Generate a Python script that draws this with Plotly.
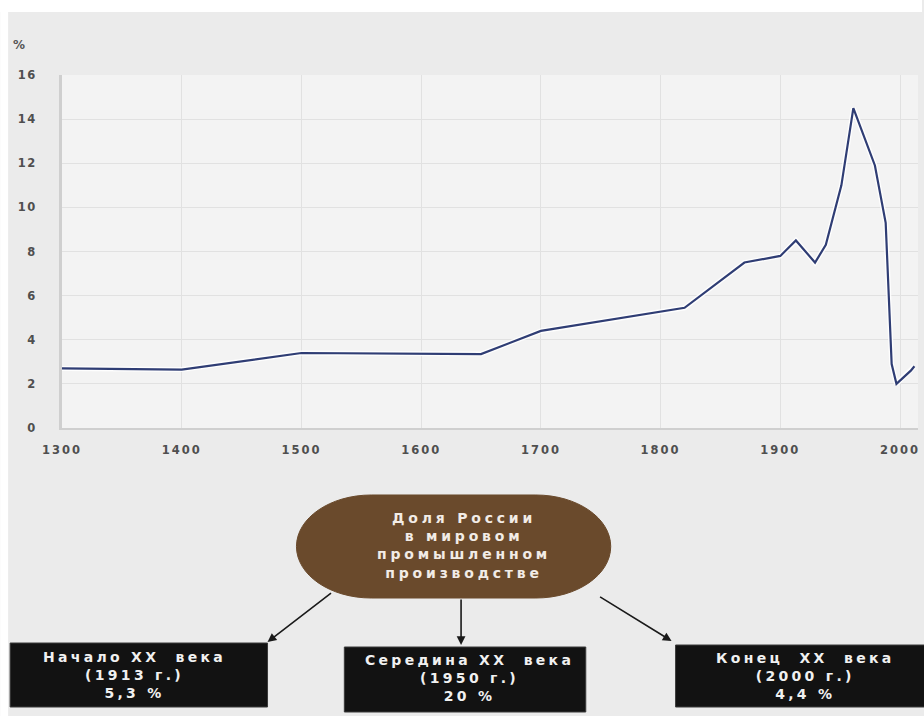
import plotly.graph_objects as go

# Russia's share of world industrial output, %
years = [1300, 1400, 1500, 1650, 1700, 1820, 1870, 1900, 1913, 1929, 1938, 1945, 1951,
         1961, 1979, 1988, 1993, 1997, 2003, 2009, 2012]
share = [2.7, 2.65, 3.4, 3.35, 4.4, 5.45, 7.5, 7.8, 8.5, 7.5, 8.3, 9.7, 11.0,
         14.5, 11.9, 9.3, 2.9, 2.0, 2.3, 2.6, 2.8]

x_ticks = [1300, 1400, 1500, 1600, 1700, 1800, 1900, 2000]
y_ticks = [0, 2, 4, 6, 8, 10, 12, 14, 16]

center_lines = ["Доля России", "в мировом", "промышленном", "производстве"]
box_lines = [
    ["Начало XX  века", "(1913 г.)", "5,3 %"],
    ["Середина XX  века", "(1950 г.)", "20 %"],
    ["Конец  XX  века", "(2000 г.)", "4,4 %"],
]

# page geometry (pixels) of the plotting area
W_PAGE, H_PAGE = 924, 716
L, T, R, B = 62, 75, 920, 428
PW, PH = R - L, B - T

FONT = "DejaVu Sans, Liberation Sans, Arial, sans-serif"


def px(x):
    return (x - L) / PW


def py(y):
    return (B - y) / PH


def spaced(text, gap):
    """Wrap text in a span with extra tracking between letters."""
    return f'<span style="letter-spacing:{gap}px">{text}</span>'


def text_block(lines, cx, cy, size, gap, color):
    """Centred multi-line label as a single annotation."""
    return dict(
        x=px(cx), y=py(cy), xref="paper", yref="paper",
        showarrow=False, xanchor="center", yanchor="middle", align="center",
        text="<br>".join(spaced(s, gap) for s in lines),
        font=dict(family=FONT, size=size, color=color, weight="bold"),
    )


fig = go.Figure()
# soft light halo under the series line
fig.add_trace(go.Scatter(
    x=years, y=share, mode="lines",
    line=dict(color="rgba(255,255,255,0.9)", width=5),
    hoverinfo="skip", showlegend=False,
))
fig.add_trace(go.Scatter(
    x=years, y=share, mode="lines",
    line=dict(color="#2f3d74", width=2.2),
    hoverinfo="x+y", showlegend=False,
))

tick_font = dict(family=FONT, size=11.5, color="#4f4f4f", weight="bold")

fig.update_xaxes(
    range=[1300, 2015], tickvals=x_ticks,
    ticktext=[spaced(str(v), 2) for v in x_ticks],
    showgrid=True, gridcolor="#e1e1e1", gridwidth=1,
    showline=True, linecolor="#cfcfcf", linewidth=2,
    zeroline=False, ticks="", tickfont=tick_font, ticklabelstandoff=10,
)
fig.update_yaxes(
    range=[0, 16], tickvals=y_ticks,
    ticktext=[spaced(str(v), 1.5) for v in y_ticks],
    showgrid=True, gridcolor="#e1e1e1", gridwidth=1,
    showline=True, linecolor="#cfcfcf", linewidth=3,
    zeroline=False, ticks="", tickfont=tick_font, ticklabelstandoff=20,
)

shapes = []
annotations = []

# white frame strips at top and left edges
shapes.append(dict(type="rect", xref="paper", yref="paper", layer="below",
                   x0=px(0), x1=px(W_PAGE), y0=py(12), y1=py(0),
                   fillcolor="white", line=dict(width=0)))
shapes.append(dict(type="rect", xref="paper", yref="paper", layer="below",
                   x0=px(0), x1=px(8), y0=py(H_PAGE), y1=py(0),
                   fillcolor="white", line=dict(width=0)))

# brown rounded capsule in the centre
x0, x1, y0, y1 = 297, 612, 495, 598
rx, ry = 75, (y1 - y0) / 2
k = 0.5523


def pt(x, y):
    return f"{px(x):.5f},{py(y):.5f}"


path = (
    f"M {pt(x0 + rx, y0)} L {pt(x1 - rx, y0)} "
    f"C {pt(x1 - rx + k * rx, y0)} {pt(x1, y0 + ry - k * ry)} {pt(x1, y0 + ry)} "
    f"C {pt(x1, y0 + ry + k * ry)} {pt(x1 - rx + k * rx, y1)} {pt(x1 - rx, y1)} "
    f"L {pt(x0 + rx, y1)} "
    f"C {pt(x0 + rx - k * rx, y1)} {pt(x0, y1 - ry + k * ry)} {pt(x0, y1 - ry)} "
    f"C {pt(x0, y0 + ry - k * ry)} {pt(x0 + rx - k * rx, y0)} {pt(x0 + rx, y0)} Z"
)
shapes.append(dict(type="path", xref="paper", yref="paper", path=path,
                   fillcolor="#6a4a2c", line=dict(color="#6a4a2c", width=1)))

annotations.append(text_block(center_lines, 465, 545, 14, 3.8, "#f2ece6"))

# black boxes with period labels
boxes = [(10, 268, 643, 707), (345, 587, 647, 712), (677, 930, 645, 707)]
text_centers = [(135, 675), (470, 678), (807, 676)]
for (bx0, bx1, by0, by1), (tx, ty), lines in zip(boxes, text_centers, box_lines):
    shapes.append(dict(type="rect", xref="paper", yref="paper",
                       x0=px(bx0), x1=px(bx1), y0=py(by1), y1=py(by0),
                       fillcolor="#121212", line=dict(color="#3a3a3a", width=1)))
    annotations.append(text_block(lines, tx, ty, 14, 3.3, "#f0f0f0"))

# arrows from the capsule to the boxes
arrows = [((268, 642), (333, 592)), ((462, 645), (462, 598)), ((673, 641), (600, 596))]
for (hx, hy), (tx, ty) in arrows:
    annotations.append(dict(
        x=px(hx), y=py(hy), xref="paper", yref="paper",
        ax=tx - hx, ay=ty - hy, text="", showarrow=True,
        arrowhead=2, arrowsize=1.1, arrowwidth=1.6, arrowcolor="#1a1a1a",
        standoff=0, startstandoff=0,
    ))

# unit label above the y axis
annotations.append(dict(
    x=px(19), y=py(45), xref="paper", yref="paper", showarrow=False,
    xanchor="center", yanchor="middle",
    text="%", font=dict(family=FONT, size=12, color="#555555", weight="bold"),
))

fig.update_layout(
    width=W_PAGE, height=H_PAGE,
    margin=dict(l=L, r=W_PAGE - R, t=T, b=H_PAGE - B),
    paper_bgcolor="#ebebeb", plot_bgcolor="#f3f3f3",
    shapes=shapes, annotations=annotations,
    showlegend=False,
)

fig.write_html("out.html")
